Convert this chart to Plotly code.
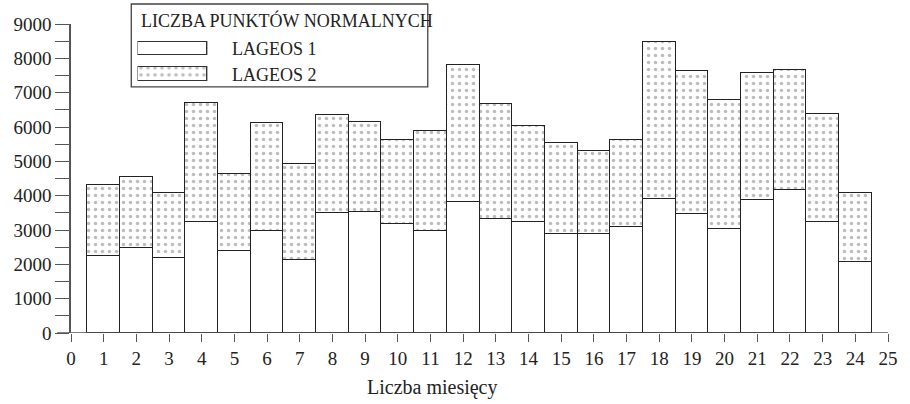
import plotly.graph_objects as go

months = list(range(1, 25))
lageos1 = [2250, 2470, 2180, 3230, 2400, 2965, 2130, 3490, 3520, 3180, 2960, 3810,
           3310, 3225, 2870, 2890, 3100, 3910, 3460, 3020, 3885, 4165, 3245, 2080]
lageos2 = [2070, 2065, 1890, 3470, 2230, 3165, 2790, 2850, 2640, 2430, 2910, 4010,
           3360, 2805, 2660, 2410, 2510, 4560, 4185, 3780, 3685, 3490, 3130, 2010]
x_ticks = list(range(0, 26))
y_ticks = list(range(0, 9001, 1000))

legend_title = "LICZBA PUNKTÓW NORMALNYCH"
names = ["LAGEOS 1", "LAGEOS 2"]
x_title = "Liczba miesięcy"

FONT = "Liberation Serif"
TXT = "#222"
AX = "#555"
pattern = dict(shape=".", fgcolor="#7a7a7a", bgcolor="white", size=7, solidity=0.2)
outline = dict(color="#222", width=1.3)

W, H = 910, 404
L, R, T, B = 71, 12.3, 24, 70.7
pw, ph = W - L - R, H - T - B

def px(x):
    return (x - L) / pw

def py(y):
    return (H - B - y) / ph

fig = go.Figure()
fig.add_trace(go.Bar(x=months, y=lageos1, name=names[0], width=1,
                     marker=dict(color="white", line=outline), showlegend=False))
fig.add_trace(go.Bar(x=months, y=lageos2, name=names[1], width=1,
                     marker=dict(color="white", pattern=pattern, line=outline), showlegend=False))

# legend swatches on their own little axes
fig.add_trace(go.Bar(x=[1], y=[1], orientation="h", width=0.53, xaxis="x2", yaxis="y2",
                     marker=dict(color="white", line=dict(color="#333", width=1.2)),
                     showlegend=False, hoverinfo="skip"))
fig.add_trace(go.Bar(x=[1], y=[0], orientation="h", width=0.53, xaxis="x2", yaxis="y2",
                     marker=dict(color="white", pattern=pattern, line=dict(color="#333", width=1.2)),
                     showlegend=False, hoverinfo="skip"))

fig.update_layout(
    width=W, height=H,
    margin=dict(l=L, r=R, t=T, b=B, pad=0),
    paper_bgcolor="white", plot_bgcolor="white",
    barmode="stack", bargap=0,
    font=dict(family=FONT, size=19, color=TXT),
    xaxis=dict(range=[0, 25], tickvals=x_ticks, ticks="outside", ticklen=8,
               tickcolor=AX, tickwidth=1.3, showline=False, showgrid=False,
               zeroline=False, tickfont=dict(family=FONT, size=19, color=TXT)),
    yaxis=dict(range=[0, 9000], tickvals=y_ticks, ticks="outside", ticklen=14,
               tickcolor=AX, tickwidth=1.3, showline=True, linecolor=AX, linewidth=1.5,
               showgrid=False, zeroline=False,
               minor=dict(dtick=500, ticks="outside", ticklen=14, tickcolor=AX, tickwidth=1.3),
               tickfont=dict(family=FONT, size=19, color=TXT)),
    xaxis2=dict(domain=[px(138.3), px(209)], range=[0, 1], visible=False, anchor="y2"),
    yaxis2=dict(domain=[py(87.4), py(36.4)], range=[-0.5, 1.5], visible=False, anchor="x2"),
)

fig.add_shape(type="line", xref="paper", yref="y", x0=px(57), x1=1, y0=0, y1=0,
              line=dict(color=AX, width=1.5))
fig.add_shape(type="rect", xref="paper", yref="paper", x0=px(132), x1=px(432),
              y0=py(87), y1=py(4), line=dict(color="#444", width=1.3))

fig.add_annotation(text=legend_title, xref="paper", yref="paper", x=px(140), y=py(20),
                   xanchor="left", yanchor="middle", showarrow=False,
                   font=dict(family=FONT, size=18, color=TXT))
fig.add_annotation(text=names[0], xref="paper", yref="paper", x=px(232), y=py(49.5),
                   xanchor="left", yanchor="middle", showarrow=False,
                   font=dict(family=FONT, size=18, color=TXT))
fig.add_annotation(text=names[1], xref="paper", yref="paper", x=px(232), y=py(75.5),
                   xanchor="left", yanchor="middle", showarrow=False,
                   font=dict(family=FONT, size=18, color=TXT))
fig.add_annotation(text=x_title, xref="paper", yref="paper", x=px(437), y=py(388),
                   xanchor="center", yanchor="middle", showarrow=False,
                   font=dict(family=FONT, size=20, color=TXT))

fig.write_html("out.html")
